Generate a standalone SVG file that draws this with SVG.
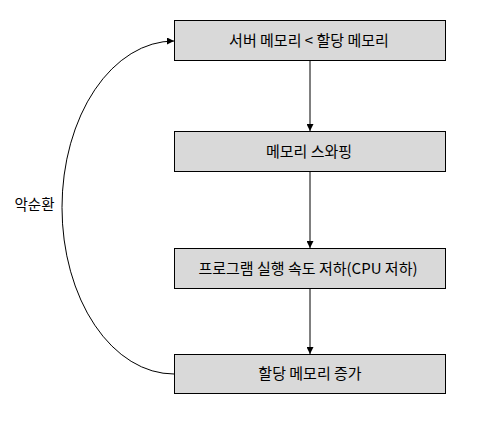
<svg xmlns="http://www.w3.org/2000/svg" width="501" height="432" viewBox="0 0 501 432">
<style>
.box{fill:#d9d9d9;stroke:#000;stroke-width:1}
.lbl{font-family:"Noto Sans CJK KR","Noto Sans",sans-serif;font-size:15px;fill:#000;text-anchor:middle}
.con{fill:none;stroke:#000;stroke-width:1;marker-end:url(#ah)}
</style>
<defs>
<marker id="ah" viewBox="0 0 10 10" refX="10" refY="5" markerWidth="7" markerHeight="7" markerUnits="userSpaceOnUse" orient="auto">
<path d="M0,0 L10,5 L0,10 z" fill="#000"/>
</marker>
</defs>
<rect width="501" height="432" fill="#fff"/>
<g id="connectors">
<line class="con" x1="310" y1="60.5" x2="310" y2="131"/>
<line class="con" x1="310" y1="171.5" x2="310" y2="248"/>
<line class="con" x1="310" y1="288.5" x2="310" y2="354"/>
<path class="con" d="M174,374 A112,166.5 0 0 1 174,41"/>
</g>
<g id="node1"><rect class="box" x="174.5" y="20.5" width="271" height="40"/><text class="lbl" x="309" y="45.5">서버 메모리 &lt; 할당 메모리</text></g>
<g id="node2"><rect class="box" x="174.5" y="131.5" width="271" height="40"/><text class="lbl" x="309" y="156.5">메모리 스와핑</text></g>
<g id="node3"><rect class="box" x="174.5" y="248.5" width="271" height="40"/><text class="lbl" x="308" y="273.5">프로그램 실행 속도 저하(CPU 저하)</text></g>
<g id="node4"><rect class="box" x="174.5" y="354.5" width="271" height="39"/><text class="lbl" x="310" y="379">할당 메모리 증가</text></g>
<g id="loop-label"><text class="lbl" x="34.5" y="210" style="font-size:14.5px">악순환</text></g>
</svg>
